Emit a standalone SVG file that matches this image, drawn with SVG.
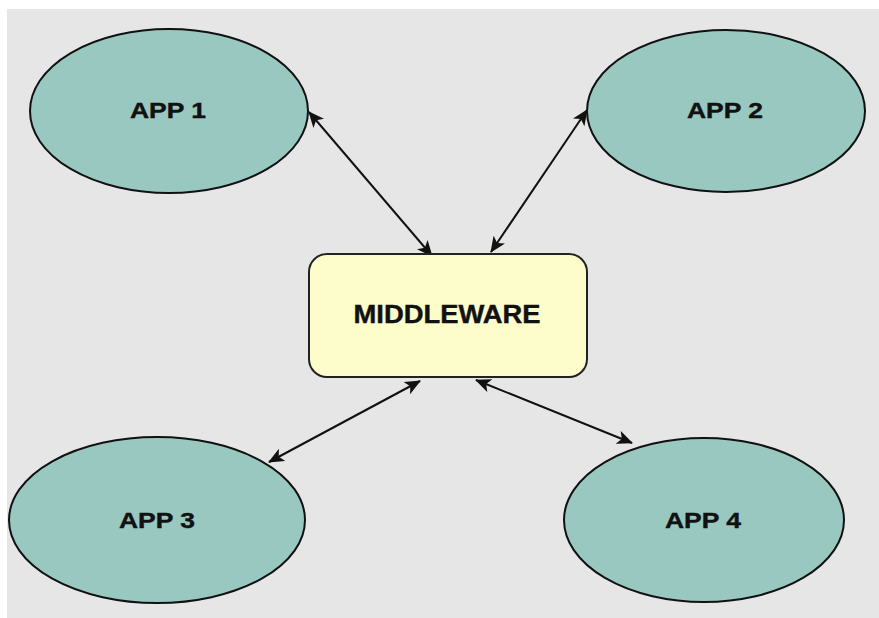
<svg xmlns="http://www.w3.org/2000/svg" width="879" height="618" viewBox="0 0 879 618">
<style>
.app{fill:#99c8c1;stroke:#111;stroke-width:2}
.mw{fill:#fdfccb;stroke:#222;stroke-width:2}
.lbl{font-family:"Liberation Sans",Arial,sans-serif;font-weight:bold;fill:#111;text-anchor:middle;stroke:#111;stroke-width:0.4}
.con{stroke:#111;stroke-width:2;fill:none;marker-start:url(#a);marker-end:url(#a)}
</style>
<defs>
<marker id="a" viewBox="0 0 16 14" refX="15" refY="7" markerWidth="16" markerHeight="14" markerUnits="userSpaceOnUse" orient="auto-start-reverse">
<path d="M0,0 L16,7 L0,14 L4,7 Z" fill="#111"/>
</marker>
</defs>
<rect x="0" y="0" width="879" height="618" fill="#fff"/>
<rect x="7" y="9" width="872" height="609" fill="#e6e6e6"/>
<g id="connectors">
<line class="con" x1="309" y1="112" x2="432" y2="256"/>
<line class="con" x1="587" y1="110" x2="491" y2="252"/>
<line class="con" x1="420" y1="381" x2="269" y2="462"/>
<line class="con" x1="476" y1="380" x2="632" y2="443"/>
</g>
<g id="app1">
<ellipse class="app" cx="169" cy="111" rx="139" ry="82"/>
<text class="lbl" x="168" y="118" font-size="22" textLength="76" lengthAdjust="spacingAndGlyphs">APP 1</text>
</g>
<g id="app2">
<ellipse class="app" cx="726" cy="111" rx="139" ry="81"/>
<text class="lbl" x="725" y="118" font-size="22" textLength="76" lengthAdjust="spacingAndGlyphs">APP 2</text>
</g>
<g id="app3">
<ellipse class="app" cx="157" cy="520" rx="148" ry="83"/>
<text class="lbl" x="157" y="528" font-size="22" textLength="76" lengthAdjust="spacingAndGlyphs">APP 3</text>
</g>
<g id="app4">
<ellipse class="app" cx="704" cy="520" rx="140" ry="82"/>
<text class="lbl" x="703" y="528" font-size="22" textLength="76" lengthAdjust="spacingAndGlyphs">APP 4</text>
</g>
<g id="middleware">
<rect class="mw" x="309" y="254" width="278" height="123" rx="18"/>
<text class="lbl" x="447" y="323" font-size="25" textLength="187" lengthAdjust="spacingAndGlyphs">MIDDLEWARE</text>
</g>
</svg>
